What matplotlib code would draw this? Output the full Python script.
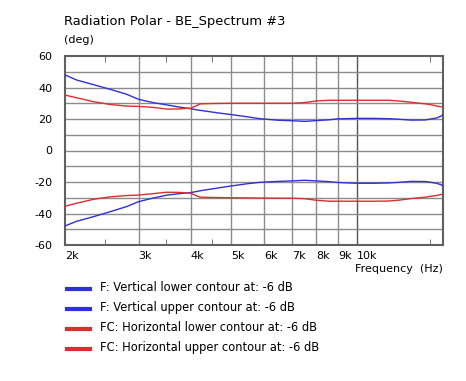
import numpy as np
import matplotlib.pyplot as plt
from matplotlib.ticker import FixedLocator, NullFormatter, NullLocator

# frequencies in Hz and contour angles in degrees
freq = [2000, 2130, 2340, 2570, 2810, 3000, 3250, 3500, 3750, 4000, 4100, 4210,
        4450, 4700, 5000, 5500, 5860, 6500, 7000, 7500, 8000, 8600, 9000, 10000,
        11000, 11900, 12650, 13500, 14600, 15100, 15500, 15900, 16050]

v_upper = [48.0, 44.8, 41.8, 38.8, 35.7, 32.5, 30.4, 29.0, 27.6, 26.5, 26.0, 25.5,
           24.6, 23.7, 22.8, 21.3, 20.2, 19.2, 18.9, 18.5, 19.0, 19.5, 20.1, 20.4,
           20.4, 20.2, 19.8, 19.3, 19.4, 20.1, 20.6, 21.8, 22.6]
v_lower = [-47.9, -45.0, -42.0, -38.8, -35.6, -32.5, -30.2, -28.4, -27.4, -26.7, -26.2, -25.6,
           -24.6, -23.6, -22.5, -21.0, -20.2, -19.6, -19.3, -18.9, -19.3, -19.8, -20.3, -20.8,
           -20.8, -20.6, -20.2, -19.6, -19.7, -20.3, -20.8, -21.7, -22.5]
h_upper = [35.2, 33.5, 31.0, 29.2, 28.2, 28.0, 27.4, 26.3, 26.4, 26.9, 28.0, 29.6,
           29.8, 29.9, 30.0, 30.0, 30.0, 30.0, 30.0, 30.4, 31.5, 31.9, 31.9, 31.9,
           31.9, 31.9, 31.4, 30.6, 29.6, 29.0, 28.3, 27.8, 27.5]
h_lower = [-35.4, -33.5, -31.0, -29.4, -28.6, -28.3, -27.4, -26.5, -26.6, -27.1, -28.4, -29.6,
           -29.8, -29.9, -30.0, -30.1, -30.2, -30.3, -30.3, -30.6, -31.6, -32.2, -32.2, -32.2,
           -32.2, -32.1, -31.5, -30.5, -29.6, -29.0, -28.6, -28.0, -27.7]

major_ticks = [2000, 3000, 4000, 5000, 6000, 7000, 8000, 9000, 10000]
tick_labels = ["2k", "3k", "4k", "5k", "6k", "7k", "8k", "9k", "10k"]
minor_ticks = [2500, 3500, 4500, 15000]
y_ticks = [60, 40, 20, 0, -20, -40, -60]

legend_names = ["F: Vertical lower contour at: -6 dB",
                "F: Vertical upper contour at: -6 dB",
                "FC: Horizontal lower contour at: -6 dB",
                "FC: Horizontal upper contour at: -6 dB"]

blue = "#3030d8"
red = "#d83030"
frame = "#606060"
gridc = "#8c8c8c"

fig = plt.figure(figsize=(4.66, 3.81), dpi=100)
ax = fig.add_axes([65/466, 1-245/381, (443-65)/466, (245-56)/381])

ax.plot(freq, v_upper, color=blue, lw=1.0, zorder=3)
ax.plot(freq, v_lower, color=blue, lw=1.0, zorder=3)
ax.plot(freq, h_upper, color=red, lw=1.0, zorder=3)
ax.plot(freq, h_lower, color=red, lw=1.0, zorder=3)

ax.set_xscale("log")
ax.set_xlim(2000, 16080)
ax.set_ylim(-60, 60)

# grid lines
for f in major_ticks[1:]:
    c = "#555555" if f == 10000 else gridc
    ax.axvline(f, color=c, lw=1.0, zorder=1)
for yv in range(-50, 60, 10):
    ax.axhline(yv, color=gridc, lw=1.0, zorder=1)

ax.xaxis.set_major_locator(FixedLocator(major_ticks))
ax.xaxis.set_minor_locator(FixedLocator(minor_ticks))
ax.xaxis.set_major_formatter(NullFormatter())
ax.xaxis.set_minor_formatter(NullFormatter())
ax.tick_params(axis="x", which="major", length=0)
ax.tick_params(axis="x", which="minor", direction="in", length=4, top=True,
               bottom=True, color=frame)
ax.set_yticks(y_ticks)
ax.set_yticklabels([str(v) for v in y_ticks], fontsize=8)
ax.tick_params(axis="y", length=0, pad=9)
ax.yaxis.set_minor_locator(NullLocator())

for f, lab in zip(major_ticks, tick_labels):
    ax.text(f, -63.5, lab, ha="left", va="top", fontsize=8)

for s in ax.spines.values():
    s.set_color(frame)
    s.set_linewidth(1.5)

fig.text(443/466, 1-269/381, "Frequency  (Hz)", ha="right", va="center", fontsize=8)
fig.text(64/466, 1-21/381, "Radiation Polar - BE_Spectrum #3", ha="left",
         va="center", fontsize=9.4)
fig.text(64/466, 1-40/381, "(deg)", ha="left", va="center", fontsize=8)

colors = [blue, blue, red, red]
for i, (name, c) in enumerate(zip(legend_names, colors)):
    yy = 1 - (289 + 20*i)/381
    fig.add_artist(plt.Line2D([67/466, 90/466], [yy, yy], color=c, lw=3,
                              transform=fig.transFigure))
    fig.text(100/466, yy + 0.005, name, ha="left", va="center", fontsize=8.3)

fig.savefig("out.png", dpi=100)
